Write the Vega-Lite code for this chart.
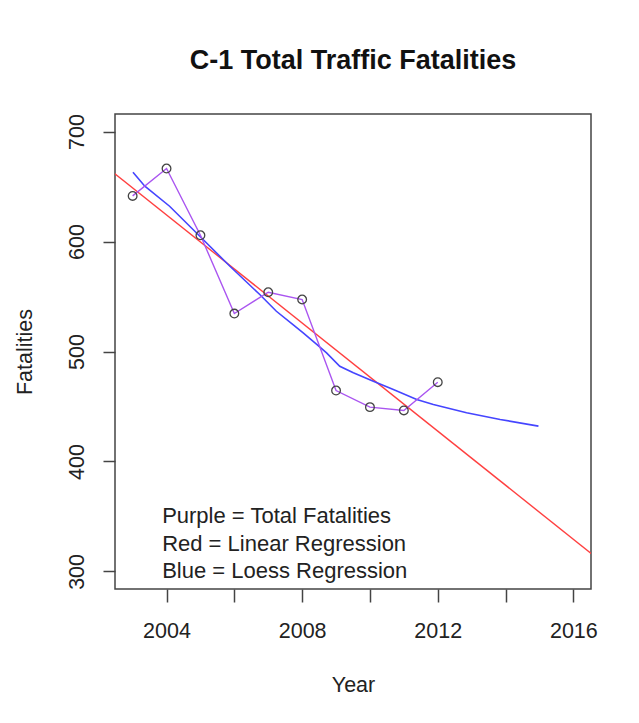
{
  "$schema": "https://vega.github.io/schema/vega-lite/v6.json",
  "autosize": {"type": "none"},
  "width": 476,
  "height": 475,
  "padding": {"left": 115, "top": 114, "right": 48, "bottom": 134},
  "background": "white",
  "title": {
    "text": "C-1 Total Traffic Fatalities",
    "font": "Liberation Sans",
    "fontSize": 27,
    "fontWeight": "bold",
    "color": "#111111",
    "anchor": "middle",
    "baseline": "alphabetic",
    "offset": 18
  },
  "config": {
    "view": {"stroke": "#444444", "strokeWidth": 1.5},
    "axis": {
      "grid": false,
      "domain": false,
      "tickColor": "#444444",
      "tickWidth": 1.5,
      "labelFont": "Liberation Sans",
      "labelFontSize": 21.5,
      "labelColor": "#222222",
      "titleFont": "Liberation Sans",
      "titleFontSize": 21.5,
      "titleFontWeight": "normal",
      "titleColor": "#222222",
      "labelOverlap": false,
      "labelFlush": false
    }
  },
  "datasets": {
    "obs": [
      {"year": 2003, "value": 641.5},
      {"year": 2004, "value": 666.4},
      {"year": 2005, "value": 605.7},
      {"year": 2006, "value": 534.5},
      {"year": 2007, "value": 553.9},
      {"year": 2008, "value": 547.3},
      {"year": 2009, "value": 464.5},
      {"year": 2010, "value": 449.4},
      {"year": 2011, "value": 446.4},
      {"year": 2012, "value": 472.1}
    ],
    "linear": [
      {"year": 2002.3, "value": 666},
      {"year": 2016.7, "value": 312}
    ],
    "loess": [
      {"year": 2003.01, "value": 663.0},
      {"year": 2003.36, "value": 650.3},
      {"year": 2004.09, "value": 632.1},
      {"year": 2004.93, "value": 606.4},
      {"year": 2005.87, "value": 577.5},
      {"year": 2006.75, "value": 551.8},
      {"year": 2007.24, "value": 536.6},
      {"year": 2007.73, "value": 524.5},
      {"year": 2008.03, "value": 517.0},
      {"year": 2008.43, "value": 506.4},
      {"year": 2008.72, "value": 498.8},
      {"year": 2009.11, "value": 486.6},
      {"year": 2009.51, "value": 480.6},
      {"year": 2010.10, "value": 473.0},
      {"year": 2010.69, "value": 465.5},
      {"year": 2011.38, "value": 456.4},
      {"year": 2011.87, "value": 451.8},
      {"year": 2012.85, "value": 444.3},
      {"year": 2013.84, "value": 438.2},
      {"year": 2014.97, "value": 432.1}
    ],
    "notes": [
      {"year": 2003.87, "value": 350, "label": "Purple = Total Fatalities"},
      {"year": 2003.87, "value": 325, "label": "Red = Linear Regression"},
      {"year": 2003.87, "value": 300, "label": "Blue = Loess Regression"}
    ]
  },
  "encoding": {
    "x": {
      "field": "year",
      "type": "quantitative",
      "scale": {"domain": [2002.48, 2016.52], "nice": false, "zero": false},
      "axis": {
        "values": [2004, 2006, 2008, 2010, 2012, 2014, 2016],
        "labelExpr": "datum.value % 4 == 0 ? format(datum.value, 'd') : ''",
        "tickSize": 13,
        "labelPadding": 18,
        "title": "Year",
        "titlePadding": 33
      }
    },
    "y": {
      "field": "value",
      "type": "quantitative",
      "scale": {"domain": [284, 716], "nice": false, "zero": false},
      "axis": {
        "values": [300, 400, 500, 600, 700],
        "format": "d",
        "tickSize": 12,
        "labelAngle": -90,
        "labelAlign": "center",
        "labelBaseline": "bottom",
        "labelPadding": 15,
        "title": "Fatalities",
        "titlePadding": 30
      }
    }
  },
  "layer": [
    {
      "data": {"name": "linear"},
      "mark": {"type": "line", "color": "#FF4040", "strokeWidth": 1.4, "clip": true}
    },
    {
      "data": {"name": "loess"},
      "mark": {"type": "line", "color": "#4545FF", "strokeWidth": 1.6, "clip": true}
    },
    {
      "data": {"name": "obs"},
      "mark": {"type": "line", "color": "#AA55F0", "strokeWidth": 1.4}
    },
    {
      "data": {"name": "obs"},
      "mark": {"type": "point", "filled": false, "stroke": "#444444", "strokeWidth": 1.3, "size": 75, "opacity": 1}
    },
    {
      "data": {"name": "notes"},
      "mark": {"type": "text", "align": "left", "baseline": "middle", "font": "Liberation Sans", "fontSize": 22, "color": "#222222"},
      "encoding": {"text": {"field": "label"}}
    }
  ]
}
